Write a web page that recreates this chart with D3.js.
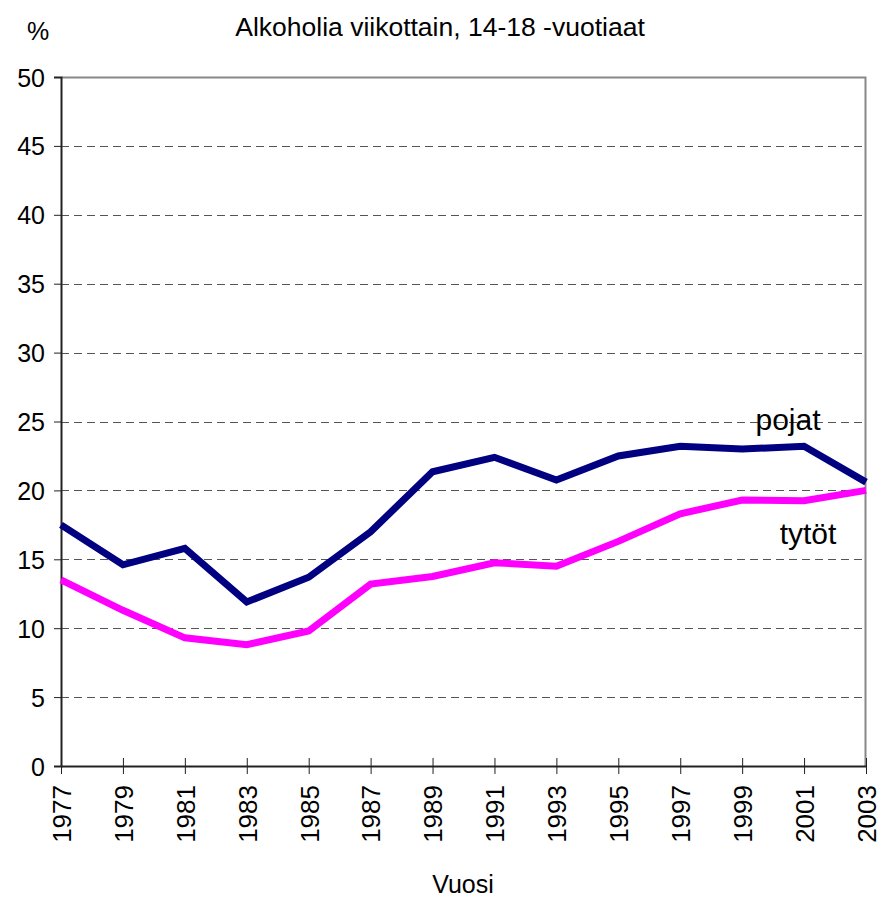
<!DOCTYPE html>
<html>
<head>
<meta charset="utf-8">
<script src="https://cdn.jsdelivr.net/npm/d3@7"></script>
<style>
  body { margin: 0; background: #fff; }
  text { font-family: Arial, "Liberation Sans", sans-serif; fill: #000; }
</style>
</head>
<body>
<div id="chart"></div>
<script>
// vuodet ja osuudet (%)
const years = [1977, 1979, 1981, 1983, 1985, 1987, 1989, 1991, 1993, 1995, 1997, 1999, 2001, 2003];
const pojat = [17.5, 14.6, 15.8, 11.9, 13.7, 17.0, 21.35, 22.4, 20.75, 22.5, 23.2, 23.0, 23.2, 20.6];
const tytot = [13.5, 11.3, 9.3, 8.8, 9.8, 13.2, 13.75, 14.75, 14.5, 16.3, 18.3, 19.3, 19.25, 20.0];
const yTicks = [0, 5, 10, 15, 20, 25, 30, 35, 40, 45, 50];

const width = 880, height = 897;
const margin = { top: 77, right: 14, bottom: 131, left: 61 };
const w = width - margin.left - margin.right;
const h = height - margin.top - margin.bottom;

const svg = d3.select('#chart')
  .append('svg')
  .attr('width', width)
  .attr('height', height);

const x = d3.scalePoint().domain(years).range([0, w]);
const y = d3.scaleLinear().domain([0, 50]).range([h, 0]);

const g = svg.append('g').attr('transform', `translate(${margin.left},${margin.top})`);

// gridlines
g.selectAll('.grid')
  .data(yTicks.filter(d => d > 0 && d < 50))
  .enter()
  .append('line')
  .attr('x1', 0)
  .attr('x2', w)
  .attr('y1', d => Math.round(y(d)) + 0.5)
  .attr('y2', d => Math.round(y(d)) + 0.5)
  .attr('stroke', '#555')
  .attr('stroke-width', 1)
  .attr('stroke-dasharray', '8,5');

// plot area border (top/right)
g.append('path')
  .attr('d', `M0.5,0.5H${w - 0.5}V${h}`)
  .attr('fill', 'none')
  .attr('stroke', '#888')
  .attr('stroke-width', 2);

// y axis
const yAxis = g.append('g')
  .call(d3.axisLeft(y).tickValues(yTicks).tickSize(7).tickPadding(9));
yAxis.select('.domain').attr('stroke', '#222').attr('stroke-width', 2);
yAxis.selectAll('.tick line').attr('stroke', '#222');
yAxis.selectAll('text').style('font-size', '25px').attr('dy', '0.36em');

// x axis
const xAxis = g.append('g')
  .attr('transform', `translate(0,${h})`)
  .call(d3.axisBottom(x).tickSize(8).tickSizeOuter(0));
xAxis.select('.domain').attr('stroke', '#222').attr('stroke-width', 2);
xAxis.selectAll('.tick line').attr('stroke', '#222').attr('y1', -8);
xAxis.selectAll('text')
  .style('font-size', '26px')
  .attr('text-anchor', 'end')
  .attr('transform', 'rotate(-90)')
  .attr('x', -19)
  .attr('y', 0)
  .attr('dy', '0.36em');

// lines
const line = d3.line()
  .x((d, i) => x(years[i]))
  .y(d => y(d));

g.append('path')
  .datum(tytot)
  .attr('d', line)
  .attr('fill', 'none')
  .attr('stroke', '#ff00ff')
  .attr('stroke-width', 7)
  .attr('stroke-linejoin', 'miter');

g.append('path')
  .datum(pojat)
  .attr('d', line)
  .attr('fill', 'none')
  .attr('stroke', '#000080')
  .attr('stroke-width', 7)
  .attr('stroke-linejoin', 'miter');

// labels
svg.append('text')
  .attr('x', 440)
  .attr('y', 36)
  .attr('text-anchor', 'middle')
  .style('font-size', '26.5px')
  .text('Alkoholia viikottain, 14-18 -vuotiaat');

svg.append('text')
  .attr('x', 38)
  .attr('y', 40)
  .attr('text-anchor', 'middle')
  .style('font-size', '25px')
  .text('%');

svg.append('text')
  .attr('x', 788)
  .attr('y', 430)
  .attr('text-anchor', 'middle')
  .style('font-size', '30px')
  .text('pojat');

svg.append('text')
  .attr('x', 808)
  .attr('y', 544)
  .attr('text-anchor', 'middle')
  .style('font-size', '30px')
  .text('tytöt');

svg.append('text')
  .attr('x', 463)
  .attr('y', 893)
  .attr('text-anchor', 'middle')
  .style('font-size', '25px')
  .text('Vuosi');
</script>
</body>
</html>
